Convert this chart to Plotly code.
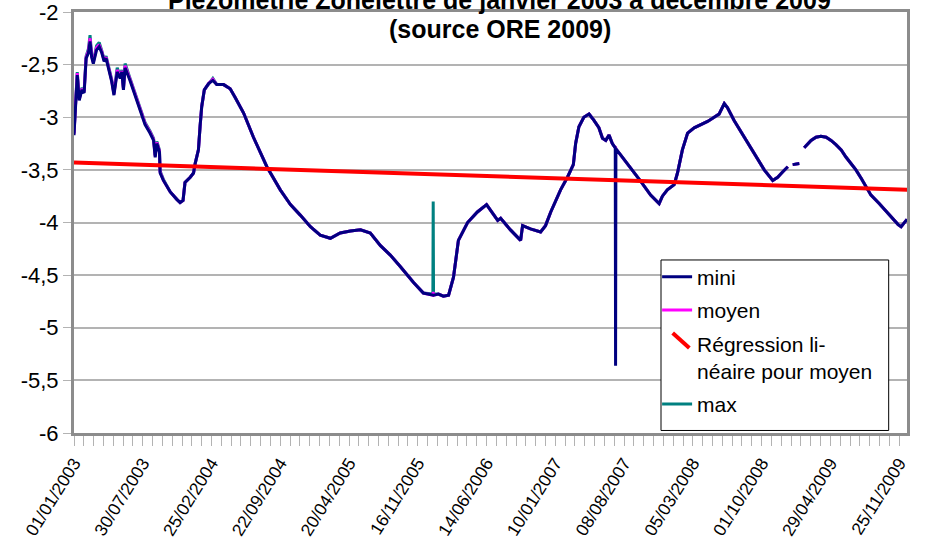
import plotly.graph_objects as go

# ---------------- data ----------------
dates = [
    "2003-01-01", "2003-01-11", "2003-01-17", "2003-01-25", "2003-02-01", "2003-02-07", "2003-02-14",
    "2003-02-19", "2003-02-24", "2003-03-01", "2003-03-11", "2003-03-19", "2003-03-27", "2003-04-03",
    "2003-04-09", "2003-04-16", "2003-04-26", "2003-05-03", "2003-05-13", "2003-05-22", "2003-05-27",
    "2003-06-01", "2003-06-06", "2003-06-21", "2003-07-07", "2003-07-22", "2003-08-06", "2003-08-21",
    "2003-09-01", "2003-09-06", "2003-09-11", "2003-09-19", "2003-09-21", "2003-10-01", "2003-10-22",
    "2003-11-11", "2003-11-21", "2003-11-30", "2003-12-06", "2003-12-22",
    "2004-01-01", "2004-01-06", "2004-01-16", "2004-01-21", "2004-01-26", "2004-02-03", "2004-02-16",
    "2004-02-29", "2004-03-12", "2004-04-02", "2004-04-22", "2004-05-07", "2004-06-02", "2004-07-02",
    "2004-08-12", "2004-09-22", "2004-10-23", "2004-11-22", "2004-12-23",
    "2005-01-22", "2005-02-22", "2005-03-24", "2005-04-24", "2005-05-25", "2005-06-24", "2005-07-25",
    "2005-08-24", "2005-09-24", "2005-11-03", "2005-12-03",
    "2006-01-01", "2006-01-02", "2006-01-03", "2006-01-18", "2006-02-02", "2006-02-18", "2006-03-05",
    "2006-03-20", "2006-04-17", "2006-05-17", "2006-06-14", "2006-07-18", "2006-07-27", "2006-08-26",
    "2006-09-17", "2006-09-26", "2006-10-02", "2006-10-26", "2006-11-26", "2006-12-11", "2006-12-27",
    "2007-01-26", "2007-02-16", "2007-03-06", "2007-03-13", "2007-03-23", "2007-04-07", "2007-04-23",
    "2007-05-08", "2007-05-23", "2007-06-03", "2007-06-13", "2007-06-23", "2007-07-03", "2007-07-12",
    "2007-07-13", "2007-07-14", "2007-07-29", "2007-08-28", "2007-09-28", "2007-10-28", "2007-11-23",
    "2007-12-03", "2007-12-18",
    "2008-01-08", "2008-01-18", "2008-02-02", "2008-02-18", "2008-03-09", "2008-03-29", "2008-04-19",
    "2008-05-09", "2008-05-24", "2008-06-09", "2008-06-19", "2008-07-09", "2008-08-09", "2008-09-08",
    "2008-10-09", "2008-11-04", "2008-11-19", "2008-12-04", "2008-12-20", "2008-12-28",
    "2009-01-04", "2009-01-24", "2009-02-01", "2009-02-08", "2009-03-01", "2009-03-16", "2009-03-31",
    "2009-04-16", "2009-05-01", "2009-05-16", "2009-06-01", "2009-06-16", "2009-07-01", "2009-07-16",
    "2009-08-01", "2009-08-31", "2009-09-25", "2009-10-31", "2009-11-22", "2009-12-01", "2009-12-10",
    "2009-12-19",
]

mini = [
    -3.17, -2.60, -2.84, -2.74, -2.77, -2.44, -2.39,
    -2.28, -2.43, -2.49, -2.36, -2.33, -2.39, -2.47,
    -2.44, -2.52, -2.66, -2.79, -2.57, -2.63, -2.57,
    -2.74, -2.53, -2.65, -2.79, -2.93, -3.07, -3.15,
    -3.22, -3.38, -3.25, -3.33, -3.53, -3.60, -3.71,
    -3.78, -3.81, -3.79, -3.62, -3.57,
    -3.53, -3.44, -3.31, -3.09, -2.90, -2.74, -2.68,
    -2.65, -2.69, -2.69, -2.73, -2.81, -2.96, -3.19,
    -3.47, -3.69, -3.83, -3.93, -4.04,
    -4.12, -4.15, -4.10, -4.08, -4.07, -4.10, -4.22,
    -4.31, -4.42, -4.57, -4.67,
    -4.69, -4.69, -4.69, -4.68, -4.70, -4.69, -4.52,
    -4.17, -4.00, -3.90, -3.83, -3.98, -3.96, -4.07,
    -4.14, -4.17, -4.03, -4.06, -4.09, -4.03, -3.90,
    -3.69, -3.57, -3.45, -3.25, -3.09, -3.00, -2.97,
    -3.03, -3.10, -3.20, -3.22, -3.17, -3.25, -3.29,
    -5.36, -3.30, -3.36, -3.48, -3.61, -3.74, -3.82,
    -3.75, -3.69,
    -3.64, -3.53, -3.31, -3.15, -3.10, -3.07, -3.04,
    -3.00, -2.97, -2.87, -2.91, -3.03, -3.19, -3.34,
    -3.50, -3.60, -3.57, -3.52, -3.47, None,
    -3.45, -3.44, None, -3.29, -3.22, -3.19, -3.18,
    -3.19, -3.22, -3.26, -3.31, -3.38, -3.44, -3.50,
    -3.58, -3.74, -3.82, -3.95, -4.02, -4.04, -4.00,
    -3.97,
]

moyen = [
    -3.16, -2.58, -2.83, -2.73, -2.76, -2.43, -2.37,
    -2.25, -2.42, -2.48, -2.34, -2.31, -2.38, -2.46,
    -2.43, -2.51, -2.65, -2.78, -2.55, -2.62, -2.56,
    -2.73, -2.51, -2.64, -2.78, -2.92, -3.06, -3.14,
    -3.21, -3.37, -3.24, -3.32, -3.52, -3.60, -3.71,
    -3.78, -3.81, -3.79, -3.62, -3.57,
    -3.53, -3.44, -3.31, -3.09, -2.90, -2.74, -2.68,
    -2.64, -2.69, -2.69, -2.73, -2.81, -2.96, -3.19,
    -3.47, -3.69, -3.83, -3.93, -4.04,
    -4.12, -4.15, -4.10, -4.08, -4.07, -4.10, -4.22,
    -4.31, -4.42, -4.57, -4.67,
    -4.69, -4.66, -4.69, -4.68, -4.70, -4.69, -4.52,
    -4.17, -4.00, -3.90, -3.83, -3.98, -3.96, -4.07,
    -4.14, -4.17, -4.03, -4.06, -4.09, -4.03, -3.90,
    -3.69, -3.57, -3.45, -3.25, -3.09, -3.00, -2.97,
    -3.03, -3.10, -3.20, -3.22, -3.17, -3.25, -3.29,
    -3.29, -3.30, -3.36, -3.48, -3.61, -3.74, -3.82,
    -3.75, -3.69,
    -3.64, -3.53, -3.31, -3.15, -3.10, -3.07, -3.04,
    -3.00, -2.97, -2.87, -2.91, -3.03, -3.19, -3.34,
    -3.50, -3.60, -3.57, -3.52, -3.47, None,
    -3.45, -3.44, None, -3.29, -3.22, -3.19, -3.18,
    -3.19, -3.22, -3.26, -3.31, -3.38, -3.44, -3.50,
    -3.58, -3.74, -3.82, -3.95, -4.02, -4.04, -4.00,
    -3.97,
]

maxi = [
    -3.15, -2.57, -2.82, -2.72, -2.75, -2.42, -2.35,
    -2.22, -2.41, -2.47, -2.32, -2.29, -2.37, -2.45,
    -2.42, -2.50, -2.64, -2.77, -2.53, -2.61, -2.55,
    -2.72, -2.49, -2.63, -2.77, -2.91, -3.05, -3.13,
    -3.20, -3.36, -3.23, -3.31, -3.51, -3.59, -3.71,
    -3.78, -3.81, -3.79, -3.62, -3.57,
    -3.53, -3.44, -3.31, -3.09, -2.90, -2.74, -2.68,
    -2.63, -2.69, -2.69, -2.73, -2.81, -2.96, -3.19,
    -3.47, -3.69, -3.83, -3.93, -4.04,
    -4.12, -4.15, -4.10, -4.08, -4.07, -4.10, -4.22,
    -4.31, -4.42, -4.57, -4.67,
    -4.68, -3.80, -4.68, -4.68, -4.70, -4.69, -4.52,
    -4.17, -4.00, -3.90, -3.83, -3.98, -3.96, -4.07,
    -4.14, -4.17, -4.03, -4.06, -4.09, -4.03, -3.90,
    -3.69, -3.57, -3.45, -3.25, -3.09, -3.00, -2.97,
    -3.03, -3.10, -3.20, -3.22, -3.17, -3.25, -3.29,
    -3.29, -3.30, -3.36, -3.48, -3.61, -3.74, -3.82,
    -3.75, -3.69,
    -3.64, -3.53, -3.31, -3.15, -3.10, -3.07, -3.04,
    -3.00, -2.97, -2.87, -2.91, -3.03, -3.19, -3.34,
    -3.50, -3.60, -3.57, -3.52, -3.47, None,
    -3.45, -3.44, None, -3.29, -3.22, -3.19, -3.18,
    -3.19, -3.22, -3.26, -3.31, -3.38, -3.44, -3.50,
    -3.58, -3.74, -3.82, -3.95, -4.02, -4.04, -4.00,
    -3.97,
]

reg_dates = ["2003-01-01", "2009-12-31"]
reg_values = [-3.43, -3.69]

y_tickvals = [-6, -5.5, -5, -4.5, -4, -3.5, -3, -2.5, -2]
y_ticktext = ["-6", "-5,5", "-5", "-4,5", "-4", "-3,5", "-3", "-2,5", "-2"]

title_line1 = "Piézométrie Zonelettre de janvier 2003 à décembre 2009"
title_line2 = "(source ORE 2009)"
reg_name = "Régression li-<br>néaire pour moyen"

# ---------------- figure ----------------
FONT = "Liberation Sans, Arial, sans-serif"
DAY = 86400000

fig = go.Figure()
fig.add_trace(go.Scatter(x=dates, y=maxi, name="max", mode="lines",
                         line=dict(color="#008080", width=3), legendrank=4,
                         legendgroup="d", connectgaps=False))
fig.add_trace(go.Scatter(x=dates, y=moyen, name="moyen", mode="lines",
                         line=dict(color="#ff00ff", width=3), legendrank=2,
                         legendgroup="b", connectgaps=False))
fig.add_trace(go.Scatter(x=dates, y=mini, name="mini", mode="lines",
                         line=dict(color="#000080", width=3), legendrank=1,
                         legendgroup="a", connectgaps=False))
fig.add_trace(go.Scatter(x=reg_dates, y=reg_values, name=reg_name, showlegend=False,
                         mode="lines", line=dict(color="#ff0000", width=4),
                         legendgroup="c"))
# legend entry of the regression (its diagonal key is drawn as a shape below)
fig.add_trace(go.Scatter(x=[None], y=[None], name=reg_name, mode="lines",
                         line=dict(color="rgba(0,0,0,0)", width=4), legendrank=3,
                         legendgroup="c", hoverinfo="skip"))

# legend frame (white box hiding the grid)
fig.add_shape(type="rect", xref="paper", yref="paper", x0=0.7047, x1=0.978, y0=0.006, y1=0.411,
              line=dict(color="#000000", width=1), fillcolor="white", layer="above")
# diagonal key of the regression in the legend
fig.add_shape(type="line", xref="paper", yref="paper", x0=0.7187, y0=0.2375, x1=0.7387, y1=0.202,
              line=dict(color="#ff0000", width=4), layer="above")

fig.add_annotation(text="<b>" + title_line1 + "</b>", xref="paper", yref="paper",
                   x=0.5114, y=1.0285, xanchor="center", yanchor="middle", showarrow=False,
                   font=dict(family=FONT, size=25, color="black"))
fig.add_annotation(text="<b>" + title_line2 + "</b>", xref="paper", yref="paper",
                   x=0.5114, y=0.9596, xanchor="center", yanchor="middle", showarrow=False,
                   font=dict(family=FONT, size=25, color="black"))

fig.update_layout(
    width=926, height=545,
    margin=dict(l=74, r=19, t=12, b=112, autoexpand=False),
    paper_bgcolor="white", plot_bgcolor="white",
    showlegend=True,
    legend=dict(x=0.70, y=0.419, xanchor="left", yanchor="top",
                bgcolor="rgba(0,0,0,0)", borderwidth=0,
                font=dict(family=FONT, size=21, color="black"),
                traceorder="grouped", tracegroupgap=3, itemwidth=30),
    font=dict(family=FONT, color="black"),
)

fig.update_xaxes(
    type="date", range=["2003-01-01", "2009-12-19"], automargin=False,
    tick0="2003-01-01", dtick=210 * DAY, tickformat="%d/%m/%Y", tickangle=-58,
    ticks="outside", ticklen=10, tickcolor="#b3b3b3", tickwidth=1,
    minor=dict(ticks="outside", dtick=30 * DAY, tick0="2003-01-01", ticklen=10,
               tickcolor="#b3b3b3", tickwidth=1, showgrid=False),
    showgrid=False, showline=True, linecolor="#8c8c8c", linewidth=3, mirror=True,
    tickfont=dict(family=FONT, size=17.5, color="black"), zeroline=False,
    ticklabeloverflow="allow",
)
fig.update_yaxes(
    range=[-6, -2], tickvals=y_tickvals, ticktext=y_ticktext, automargin=False,
    ticks="outside", ticklen=8, tickcolor="#b3b3b3", tickwidth=1,
    showgrid=True, gridcolor="#b3b3b3", gridwidth=1.5,
    showline=True, linecolor="#8c8c8c", linewidth=3, mirror=True,
    tickfont=dict(family=FONT, size=22, color="black"), zeroline=False,
    ticklabelstandoff=0, ticklabeloverflow="allow",
)

# the page is photographed edge to edge: drop the browser's default body margin
fig.write_html("out.html", config={"displayModeBar": False},
               post_script="document.body.style.margin='0';")
